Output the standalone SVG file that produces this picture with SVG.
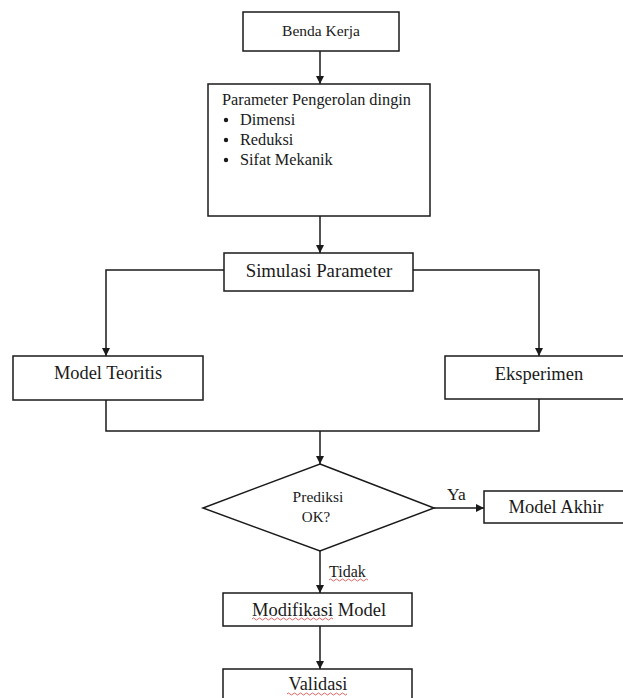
<svg xmlns="http://www.w3.org/2000/svg" width="623" height="698" viewBox="0 0 623 698">
<defs>
<marker id="ah" viewBox="0 0 10 10" refX="10" refY="5" markerWidth="8" markerHeight="8" markerUnits="userSpaceOnUse" orient="auto">
<path d="M0,0 L10,5 L0,10 z" fill="#1a1a1a"/>
</marker>
<style>
.box{fill:#fff;stroke:#1a1a1a;stroke-width:1.5}
.ln{fill:none;stroke:#1a1a1a;stroke-width:1.5}
.t{font-family:"Liberation Serif","Times New Roman",serif;fill:#1a1a1a;text-anchor:middle}
.l{font-family:"Liberation Serif","Times New Roman",serif;fill:#1a1a1a}
.sq{fill:none;stroke:#d04040;stroke-width:0.8}
</style>
</defs>
<rect width="623" height="698" fill="#fff"/>
<g id="connectors">
<line class="ln" x1="320" y1="51" x2="320" y2="84" marker-end="url(#ah)"/>
<line class="ln" x1="320" y1="216" x2="320" y2="253" marker-end="url(#ah)"/>
<polyline class="ln" points="224,270 106,270 106,356" marker-end="url(#ah)"/>
<polyline class="ln" points="413,270 539,270 539,356" marker-end="url(#ah)"/>
<polyline class="ln" points="106,400 106,431 539,431 539,399"/>
<line class="ln" x1="320" y1="431" x2="320" y2="464" marker-end="url(#ah)"/>
<line class="ln" x1="434" y1="508" x2="484" y2="508" marker-end="url(#ah)"/>
<line class="ln" x1="320" y1="551" x2="320" y2="593" marker-end="url(#ah)"/>
<line class="ln" x1="320" y1="626" x2="320" y2="669" marker-end="url(#ah)"/>
<text class="l" x="447" y="500" font-size="17.5">Ya</text>
<text class="l" x="329" y="577" font-size="16">Tidak</text>
<path class="sq" d="M329,580 q1.5,-2 3,0 t3,0 t3,0 t3,0 t3,0 t3,0 t3,0 t3,0 t3,0 t3,0 t3,0 t3,0 t3,0"/>
</g>
<g id="benda-kerja">
<rect class="box" x="243" y="12" width="156" height="39"/>
<text class="t" x="321" y="36" font-size="15.5">Benda Kerja</text>
</g>
<g id="parameter">
<rect class="box" x="208" y="84" width="222" height="132"/>
<text class="l" x="222" y="105" font-size="16.3">Parameter Pengerolan dingin</text>
<circle cx="226" cy="120" r="2.2" fill="#1a1a1a"/>
<circle cx="226" cy="140" r="2.2" fill="#1a1a1a"/>
<circle cx="226" cy="160" r="2.2" fill="#1a1a1a"/>
<text class="l" x="240" y="125" font-size="16.3">Dimensi</text>
<text class="l" x="240" y="145" font-size="16.3">Reduksi</text>
<text class="l" x="240" y="165" font-size="16.3">Sifat Mekanik</text>
</g>
<g id="simulasi">
<rect class="box" x="224" y="253" width="189" height="38"/>
<text class="t" x="319" y="277" font-size="18.8">Simulasi Parameter</text>
</g>
<g id="model-teoritis">
<rect class="box" x="13" y="356" width="190" height="44"/>
<text class="t" x="108" y="379" font-size="18.4">Model Teoritis</text>
</g>
<g id="eksperimen">
<rect class="box" x="445" y="356" width="190" height="43"/>
<text class="t" x="539" y="380" font-size="18.5">Eksperimen</text>
</g>
<g id="prediksi">
<polygon class="box" points="320,464 434,508 320,551 203,508"/>
<text class="t" x="318" y="502" font-size="15.5">Prediksi</text>
<text class="t" x="316" y="522" font-size="15">OK?</text>
</g>
<g id="model-akhir">
<rect class="box" x="484" y="491" width="150" height="32"/>
<text class="t" x="556" y="513" font-size="18.5">Model Akhir</text>
</g>
<g id="modifikasi">
<rect class="box" x="223" y="593" width="189" height="33"/>
<text class="t" x="319" y="616" font-size="18.5">Modifikasi Model</text>
<path class="sq" d="M252,619 q1.5,-2 3,0 t3,0 t3,0 t3,0 t3,0 t3,0 t3,0 t3,0 t3,0 t3,0 t3,0 t3,0 t3,0 t3,0 t3,0 t3,0 t3,0 t3,0 t3,0 t3,0 t3,0 t3,0 t3,0 t3,0 t3,0 t3,0 t3,0"/>
</g>
<g id="validasi">
<rect class="box" x="223" y="669" width="189" height="40"/>
<text class="t" x="318" y="690" font-size="18.3">Validasi</text>
<path class="sq" d="M287,694 q1.5,-2 3,0 t3,0 t3,0 t3,0 t3,0 t3,0 t3,0 t3,0 t3,0 t3,0 t3,0 t3,0 t3,0 t3,0 t3,0 t3,0 t3,0 t3,0 t3,0 t3,0"/>
</g>
</svg>
